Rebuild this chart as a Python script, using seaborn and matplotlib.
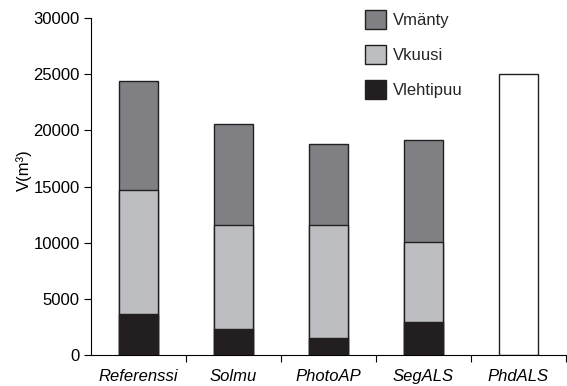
import numpy as np
import pandas as pd
import matplotlib
matplotlib.use("Agg")
import matplotlib.pyplot as plt
from matplotlib.patches import Patch
import seaborn as sns

# Volume by tree species for each inventory method
categories = ["Referenssi", "Solmu", "PhotoAP", "SegALS", "PhdALS"]
v_lehtipuu = [3650, 2300, 1500, 2950, np.nan]
v_kuusi = [11050, 9300, 10050, 7150, np.nan]
v_manty = [9700, 9000, 7250, 9050, np.nan]
v_total_only = [np.nan, np.nan, np.nan, np.nan, 25000]
y_ticks = [0, 5000, 10000, 15000, 20000, 25000, 30000]

c_manty = "#808084"
c_kuusi = "#bdbec2"
c_lehti = "#231f20"
edge = "#231f20"

sns.set_theme(style="white")
plt.rcParams["font.family"] = ["Liberation Sans", "DejaVu Sans"]

df = pd.DataFrame({
    "method": categories,
    "lehti": v_lehtipuu,
    "kuusi": v_kuusi,
    "manty": v_manty,
    "total": v_total_only,
})
df["cum_kuusi"] = df["lehti"] + df["kuusi"]
df["cum_manty"] = df["cum_kuusi"] + df["manty"]

fig = plt.figure(figsize=(5.67, 3.86), dpi=100)
ax = fig.add_axes([91 / 567, 1 - 355 / 386, (566 - 91) / 567, (355 - 18) / 386])

bw = 0.42
common = dict(x="method", order=categories, ax=ax, width=bw,
              edgecolor=edge, linewidth=1.0, errorbar=None)
sns.barplot(data=df, y="cum_manty", color=c_manty, saturation=1, **common)
sns.barplot(data=df, y="cum_kuusi", color=c_kuusi, saturation=1, **common)
sns.barplot(data=df, y="lehti", color=c_lehti, saturation=1, **common)
sns.barplot(data=df, y="total", color="white", saturation=1, **common)

fs = 12
ax.set_ylim(0, 30000)
ax.set_xlim(-0.5, 4.5)
ax.set_yticks(y_ticks)
ax.set_yticklabels([str(t) for t in y_ticks], fontsize=fs)
ax.set_xticks(range(len(categories)))
ax.set_xticklabels(categories, fontsize=fs, fontstyle="italic")
ax.set_xticks(np.arange(0.5, len(categories), 1.0), minor=True)
ax.tick_params(axis="x", which="major", bottom=True, length=0, pad=10)
ax.tick_params(axis="x", which="minor", bottom=True, length=5, width=0.8,
               color="black", direction="out")
ax.tick_params(axis="y", which="major", left=True, length=5, width=0.8,
               color="black", direction="out", pad=3)
for lab in ax.get_yticklabels() + ax.get_xticklabels():
    lab.set_color("black")

ax.set_xlabel("")
ax.set_ylabel("V(m³)", fontsize=fs, color="black", labelpad=0)
ax.yaxis.set_label_coords(-0.124, 0.55)

sns.despine(ax=ax, top=True, right=True)
for s in ("left", "bottom"):
    ax.spines[s].set_color("black")
    ax.spines[s].set_linewidth(0.8)

handles = [
    Patch(facecolor=c_manty, edgecolor=edge, linewidth=1.0, label="Vmänty"),
    Patch(facecolor=c_kuusi, edgecolor=edge, linewidth=1.0, label="Vkuusi"),
    Patch(facecolor=c_lehti, edgecolor=edge, linewidth=1.0, label="Vlehtipuu"),
]
fig.legend(handles=handles, loc="upper left",
           bbox_to_anchor=(365 / 567, 1 - 10 / 386),
           frameon=False, fontsize=fs, borderpad=0, borderaxespad=0,
           handlelength=1.27, handleheight=1.4, handletextpad=0.4,
           labelspacing=0.95)

fig.savefig("out.png", dpi=100)
